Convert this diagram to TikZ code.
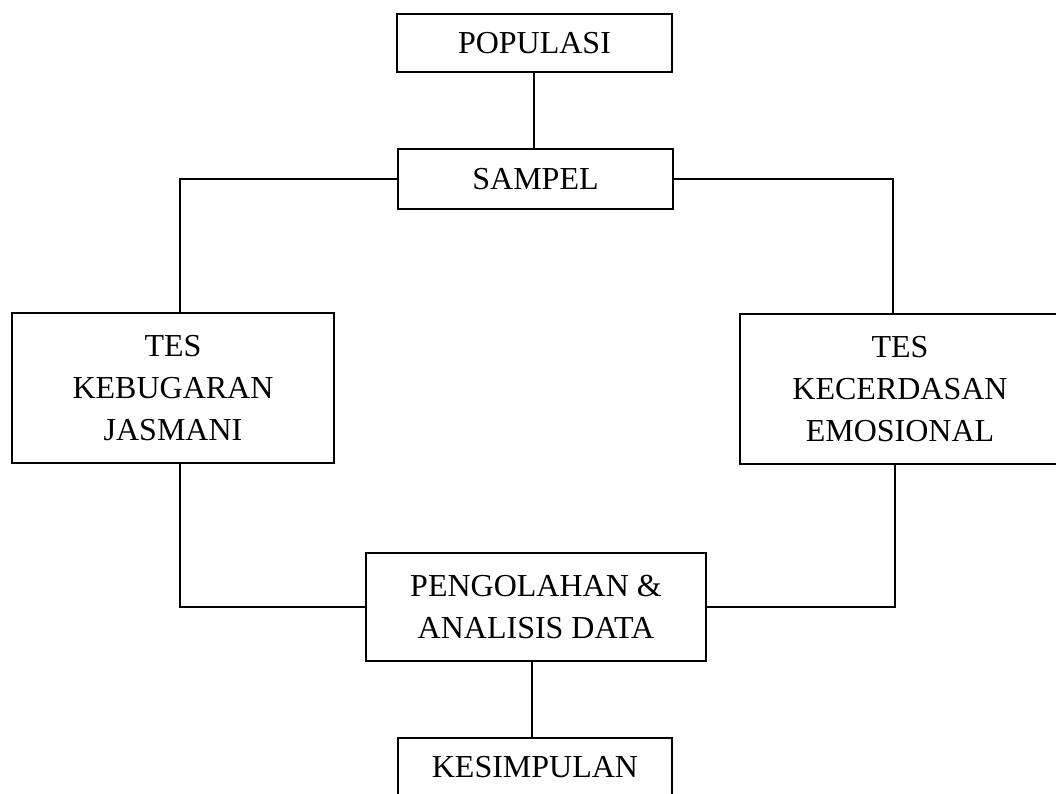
\documentclass[tikz,border=0pt]{standalone}
\usepackage{fontspec}
\setmainfont{Liberation Serif}
\begin{document}
\begin{tikzpicture}[x=1pt,y=-1pt,
  box/.style={draw=black,line width=1.6pt,rectangle,inner sep=0pt,align=center,
    font=\fontsize{32}{42}\selectfont},
  conn/.style={draw=black,line width=1.3pt}]
\useasboundingbox (0,0) rectangle (1056,793);
\node[box,minimum width=275,minimum height=58] (pop) at (534.5,43) {POPULASI};
\node[box,minimum width=275,minimum height=60] (samp) at (535.5,179) {SAMPEL};
\node[box,minimum width=322,minimum height=150] (keb) at (173,388) {TES\\KEBUGARAN\\JASMANI};
\node[box,minimum width=320,minimum height=150] (kec) at (900,389) {TES\\KECERDASAN\\EMOSIONAL};
\node[box,minimum width=340,minimum height=108] (olah) at (536,607) {PENGOLAHAN \&\\ANALISIS DATA};
\node[box,minimum width=274,minimum height=58] (kes) at (535,767) {KESIMPULAN};
\draw[conn] ([xshift=-0.5pt]pop.south) -- ([xshift=-0.5pt]pop.south |- samp.north);
\draw[conn] (samp.west) -| ([xshift=7pt]keb.north);
\draw[conn] (samp.east) -| ([xshift=-7pt]kec.north);
\draw[conn] ([xshift=7pt]keb.south) |- (olah.west);
\draw[conn] ([xshift=-5pt]kec.south) |- (olah.east);
\draw[conn] ([xshift=-3pt]kes.north) -- ([xshift=-3pt]kes.north |- olah.south);
\end{tikzpicture}
\end{document}
